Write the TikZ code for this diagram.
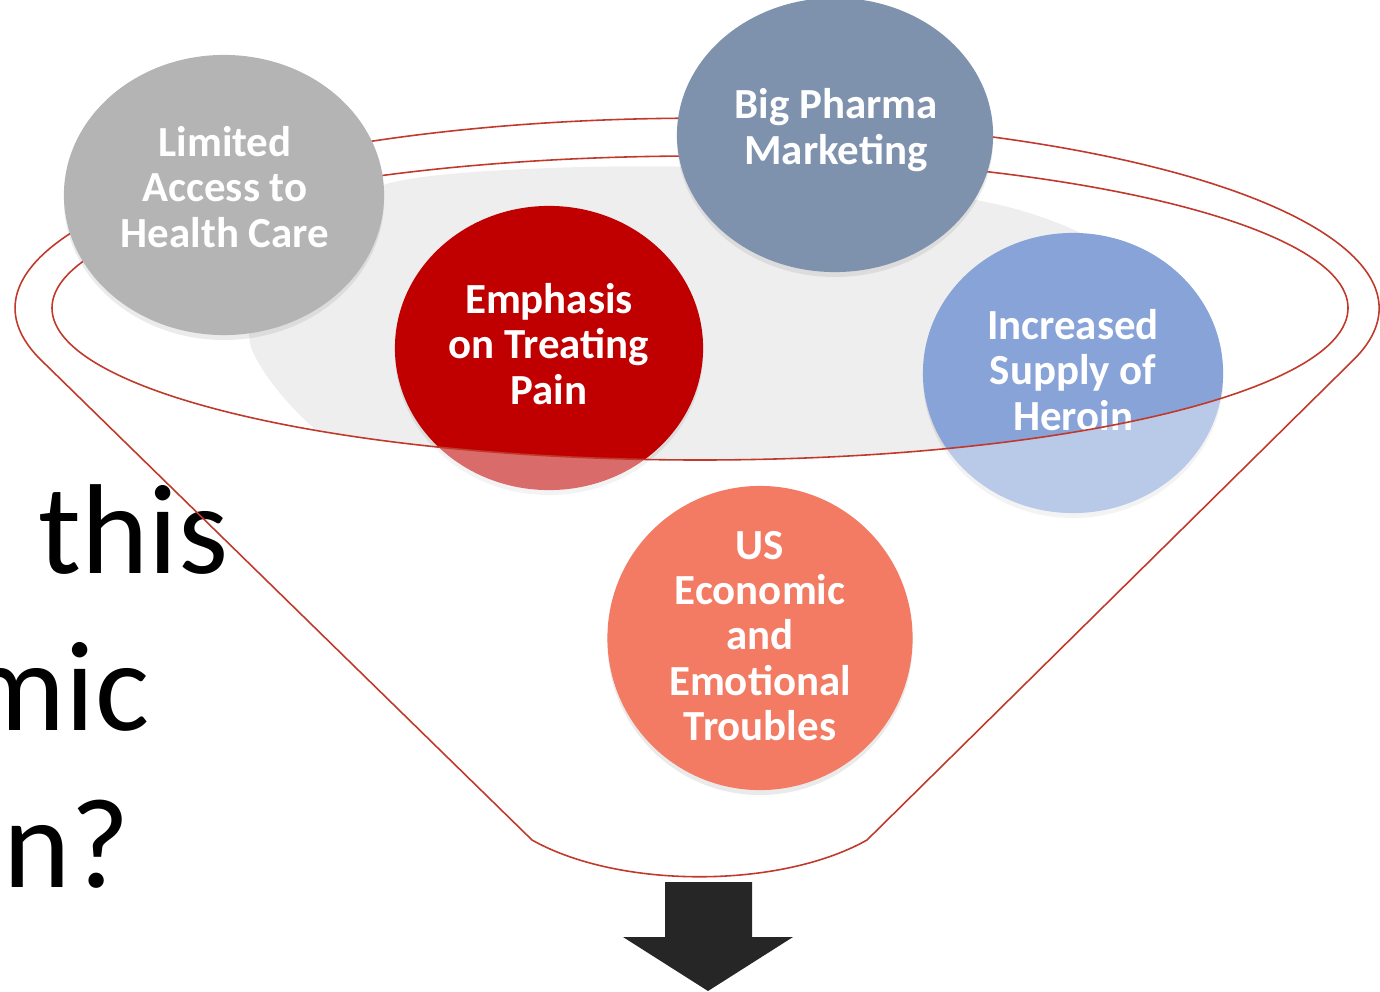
\documentclass[tikz,border=0pt]{standalone}
\usepackage{fontspec}
\setmainfont{Carlito}
\usetikzlibrary{shapes.geometric,shadows}

\definecolor{healthgray}{HTML}{B4B4B4}
\definecolor{pharmaslate}{HTML}{7E92AE}
\definecolor{painred}{HTML}{C00000}
\definecolor{heroinblue}{HTML}{87A3D8}
\definecolor{troublesalmon}{HTML}{F37B63}
\definecolor{rimred}{RGB}{192,57,43}
\definecolor{funnelshade}{HTML}{EEEEEE}
\definecolor{arrowblack}{HTML}{262626}

\begin{document}
\begin{tikzpicture}[x=0.01cm, y=-0.01cm,
  bubble/.style={ellipse, draw=none, inner sep=0pt,
    drop shadow={opacity=0.16, shadow xshift=0pt, shadow yshift=-1.4pt}},
  bubbletext/.style={align=center, text=white, inner sep=0pt,
    font=\bfseries\fontsize{12.2}{12.9}\selectfont},
  bigword/.style={inner sep=0pt, text=black,
    font=\fontsize{36.4}{44}\selectfont},
  rim/.style={draw=rimred, line width=0.45pt},
  veil/.style={fill=white, fill opacity=0.42, even odd rule},
]
\useasboundingbox (0,0) rectangle (1380,991);
\clip (0,0) rectangle (1380,991);

% key points of the funnel outline
\coordinate (lt) at (40,359);
\coordinate (br) at (867,840);
\coordinate (bl) at (532,840);
\coordinate (rimc) at (700,308);

% soft grey back of the funnel mouth
\begin{scope}
  \clip (rimc) ellipse [x radius=648, y radius=152];
  \fill[funnelshade] plot[smooth cycle] coordinates
    {(252,350) (290,250) (383,185) (550,168) (760,170) (1000,205)
     (1120,255) (1200,340) (1180,470) (700,520) (380,470)};
\end{scope}

% bubbles sitting inside the funnel
\node[bubble, fill=painred, minimum width=3.08cm, minimum height=2.84cm] (pain) at (549,348) {};
\node[bubble, fill=heroinblue, minimum width=3.0cm, minimum height=2.8cm] (heroin) at (1073,373) {};
\node[bubbletext] (paintext) at (549,344) {Emphasis\\on Treating\\Pain};
\node[bubbletext] (herointext) at (1073,370) {Increased\\Supply of\\Heroin};

% translucent front of the funnel body
\path[veil] (lt) arc[start angle=164.5, end angle=375.5, x radius=682, y radius=190]
  -- (br) .. controls (780,889) and (619,889) .. (bl) -- cycle
  (rimc) ellipse [x radius=648, y radius=152];

% slide title, cut by the frame
\node[bigword, anchor=base west] (lineone) at (38,573) {this};
\node[bigword, anchor=base east] (linetwo) at (150,730) {epidemic};
\node[bigword, anchor=base east] (linethree) at (131,887) {happen?};

% funnel outline and rim
\draw[rim] (lt) arc[start angle=164.5, end angle=375.5, x radius=682, y radius=190]
  -- (br) .. controls (780,889) and (619,889) .. (bl) -- cycle;
\draw[rim] (rimc) ellipse [x radius=648, y radius=152];

% bubbles in front of the rim
\node[bubble, fill=healthgray, minimum width=3.2cm, minimum height=2.8cm] (health) at (224,195) {};
\node[bubble, fill=pharmaslate, minimum width=3.16cm, minimum height=2.74cm] (pharma) at (835,135) {};
\node[bubble, fill=troublesalmon, minimum width=3.05cm, minimum height=3.04cm] (troubles) at (760,638) {};
\node[bubbletext] (healthtext) at (225,187) {Limited\\Access to\\Health Care};
\node[bubbletext] (pharmatext) at (836,130) {Big Pharma\\Marketing};
\node[bubbletext] (troublestext) at (760,636) {US\\Economic\\and\\Emotional\\Troubles};

% output arrow below the funnel
\coordinate (sl) at (665,882);
\coordinate (sr) at (752,882);
\coordinate (tip) at (708,991);
\fill[arrowblack] (sl) -- (sr) -- (752,937) -- (793,937) -- (tip) -- (623,937) -- (665,937) -- cycle;
\end{tikzpicture}
\end{document}
